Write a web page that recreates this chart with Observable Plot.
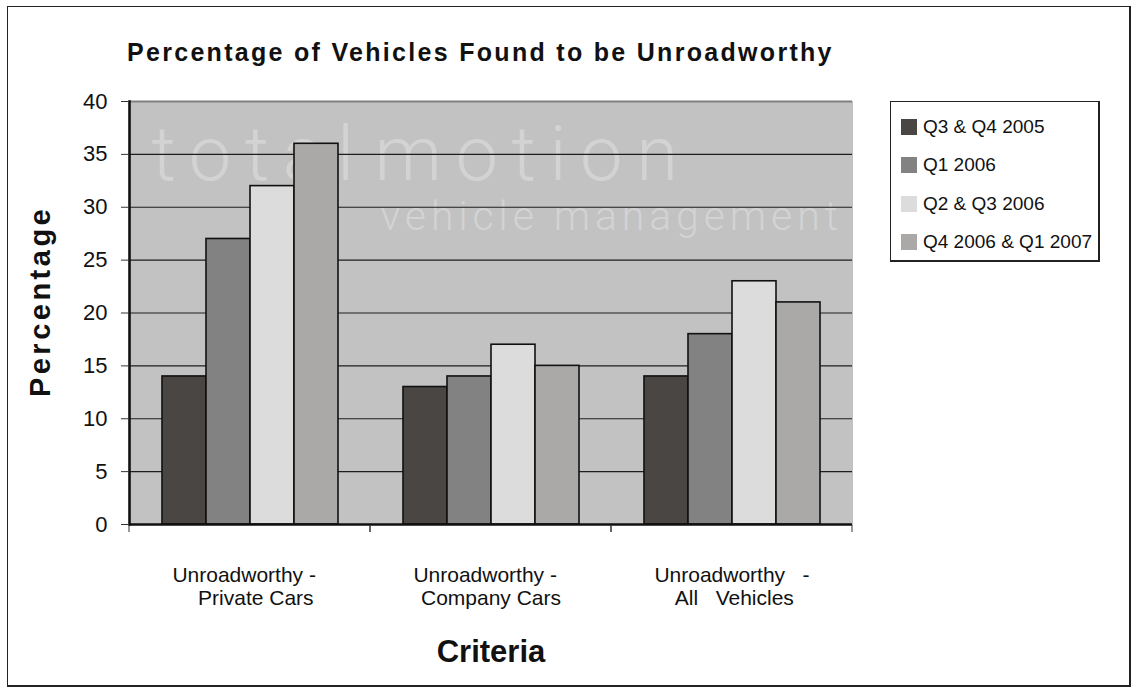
<!DOCTYPE html>
<html>
<head>
<meta charset="utf-8">
<script src="https://cdn.jsdelivr.net/npm/d3@7"></script>
<script src="https://cdn.jsdelivr.net/npm/@observablehq/plot@0.6"></script>
<style>
  html, body { margin: 0; padding: 0; background: #fff; width: 1137px; height: 687px; overflow: hidden;
    font-family: "Liberation Sans", Arial, sans-serif; color: #111; }
  #border { position: absolute; left: 7px; top: 6px; width: 1124px; height: 681px; box-sizing: border-box;
    border: 1px solid #222; border-right-width: 2px; border-bottom-width: 2px; }
  #title { position: absolute; left: 127px; top: 40px; font-weight: bold; font-size: 25px; line-height: 25px;
    letter-spacing: 2.3px; white-space: nowrap; }
  #chart { position: absolute; left: 0; top: 80px; }
  #legend { position: absolute; left: 890px; top: 101px; width: 210px; height: 161px; box-sizing: border-box;
    border: 1px solid #222; border-right-width: 2px; border-bottom-width: 2px; padding-top: 15px; }
  .item { display: flex; align-items: center; height: 20px; margin-bottom: 18.3px; padding-left: 10px;
    font-size: 19px; white-space: nowrap; }
  .sw { width: 16px; height: 16px; margin-right: 6px; flex: none; }
  g[aria-label="y-axis label"] text { font-weight: bold; font-size: 29px; letter-spacing: 3.5px; }
  g[aria-label="fx-axis label"] text { font-weight: bold; font-size: 31px; }
  g[font-size="76"] text { letter-spacing: 13.5px; word-spacing: -25px; }
  g[font-size="41"] text { letter-spacing: 4.9px; }
</style>
</head>
<body>
<div id="border"></div>
<div id="title">Percentage of Vehicles Found to be Unroadworthy</div>
<div id="chart"></div>
<div id="legend"></div>
<script>
// ---- data ----
const categories = ["Unroadworthy - Private Cars", "Unroadworthy - Company Cars", "Unroadworthy - All Vehicles"];
const categoryLabels = ["Unroadworthy -  \n  Private Cars", "Unroadworthy -  \nCompany Cars", "Unroadworthy   -\n All   Vehicles"];
const series = ["Q3 & Q4 2005", "Q1 2006", "Q2 & Q3 2006", "Q4 2006 & Q1 2007"];
const q3q4_2005 = [14, 13, 14];
const q1_2006 = [27, 14, 18];
const q2q3_2006 = [32, 17, 23];
const q4_2006_q1_2007 = [36, 15, 21];
const seriesColors = ["#4a4643", "#828282", "#dcdcdc", "#aaa9a7"];
const yTicks = [0, 5, 10, 15, 20, 25, 30, 35, 40];
const gridValues = [5, 10, 15, 20, 25, 30, 35];
const yLabel = "  Percentage";
const xLabel = "Criteria";
const watermarkBig = "total motion";
const watermarkSmall = "vehicle management";

const seriesValues = [q3q4_2005, q1_2006, q2q3_2006, q4_2006_q1_2007];
const table = [];
categories.forEach((c, ci) => series.forEach((s, si) => table.push({category: c, series: s, value: seriesValues[si][ci]})));

function boundaryTicks(index, scales, values, dims) {
  const g = d3.create("svg:g").attr("stroke", "#333").attr("stroke-width", 1);
  const y0 = scales.y(0);
  for (const x of [dims.marginLeft, dims.width - dims.marginRight]) {
    g.append("line").attr("x1", x).attr("x2", x).attr("y1", y0 + 1).attr("y2", y0 + 8);
  }
  return g.node();
}

const bg = "#c2c2c2";
const chart = Plot.plot({
  width: 880,
  height: 600,
  marginLeft: 128,
  marginRight: 27,
  marginTop: 21,
  marginBottom: 156,
  style: {background: "transparent", fontFamily: "'Liberation Sans', Arial, sans-serif", color: "#111", overflow: "visible"},
  fx: {domain: categories, padding: 0},
  x: {domain: series, paddingInner: 0, paddingOuter: 0.73, axis: null},
  y: {domain: [0, 40]},
  color: {domain: series, range: seriesColors},
  marks: [
    Plot.frame({fill: bg, stroke: bg, strokeWidth: 1}),
    Plot.text([watermarkBig], {text: d => d, frameAnchor: "top-left", facetAnchor: "left", textAnchor: "start",
      lineAnchor: "top", dx: 22, dy: 25, fontSize: 76, fontWeight: 300, fill: "#d3d3d3",
      fontFamily: "Roboto, Inter, sans-serif"}),
    Plot.text([watermarkSmall], {text: d => d, frameAnchor: "top-left", facetAnchor: "left", textAnchor: "start",
      lineAnchor: "top", dx: 251, dy: 99, fontSize: 41, fontWeight: 300, fill: "#d3d3d3",
      fontFamily: "Roboto, Inter, sans-serif"}),
    Plot.ruleY(gridValues, {stroke: "#1e1e1e", strokeWidth: 1.2}),
    Plot.ruleY([40], {stroke: "#808080", strokeWidth: 2}),
    Plot.barY(table, {fx: "category", x: "series", y: "value", fill: "series", stroke: "#111", strokeWidth: 1.6}),
    Plot.ruleY([0], {stroke: "#111", strokeWidth: 2.5}),
    Plot.frame({anchor: "left", facetAnchor: "left", stroke: "#111", strokeWidth: 2.6}),
    boundaryTicks,
    Plot.axisY({ticks: yTicks, tickSize: 8, tickPadding: 14, fontSize: 22, stroke: "#333",
      label: yLabel, labelAnchor: "center", labelArrow: "none", labelOffset: 100}),
    Plot.axisFx({anchor: "bottom", tickSize: 0, tickPadding: 41, fontSize: 21, lineHeight: 1.1,
      tickFormat: d => categoryLabels[categories.indexOf(d)],
      label: xLabel, labelAnchor: "center", labelArrow: "none", labelOffset: 137})
  ]
});
document.getElementById("chart").appendChild(chart);

// legend
const legend = document.getElementById("legend");
series.forEach((s, i) => {
  const row = document.createElement("div");
  row.className = "item";
  const sw = document.createElement("span");
  sw.className = "sw";
  sw.style.background = seriesColors[i];
  row.appendChild(sw);
  row.appendChild(document.createTextNode(s));
  legend.appendChild(row);
});
</script>
</body>
</html>
